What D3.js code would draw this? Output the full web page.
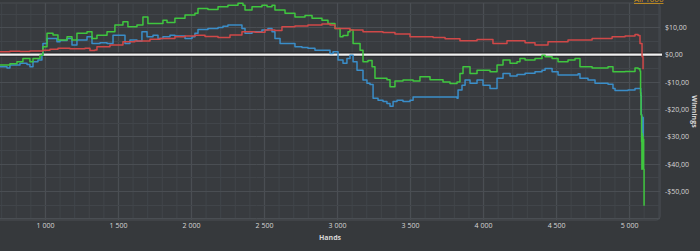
<!DOCTYPE html>
<html>
<head>
<meta charset="utf-8">
<script src="https://cdn.jsdelivr.net/npm/d3@7"></script>
<style>
  html, body { margin: 0; padding: 0; background: #36393c; }
  svg { display: block; }
</style>
</head>
<body>
<div class="canvas"></div>
<script>
const width = 700
const height = 251

// tick labels
const xTicks = [1000, 1500, 2000, 2500, 3000, 3500, 4000, 4500, 5000]
const yTicks = [10, 0, -10, -20, -30, -40, -50]

// [hands, winnings $]
const redData = [
  [692, 1.0], [760, 1.2], [829, 1.1], [897, 1.3], [986, 1.6], [1034, 2.0], [1089, 2.3],
  [1171, 2.1], [1274, 2.3], [1308, 1.5], [1342, 1.7], [1356, 2.9], [1445, 3.5], [1534, 4.7],
  [1616, 5.0], [1719, 5.6], [1788, 5.9], [1890, 6.5], [1959, 6.8], [2027, 7.1], [2096, 6.6],
  [2185, 6.3], [2267, 7.2], [2349, 8.4], [2438, 8.2], [2507, 9.0], [2575, 8.8], [2623, 10.2],
  [2712, 10.5], [2801, 10.8], [2897, 11.2], [2952, 10.8], [2986, 9.6], [3089, 9.0],
  [3178, 8.4], [3315, 8.1], [3397, 7.5], [3500, 6.5], [3658, 6.3], [3740, 5.8], [3842, 5.1],
  [3959, 5.5], [4068, 4.1], [4164, 5.1], [4288, 4.3], [4356, 3.5], [4445, 4.7], [4582, 5.3],
  [4747, 5.9], [4884, 6.5], [4973, 6.8], [5041, 7.4], [5062, 7.0], [5075, 4.1], [5089, -0.8],
  [5096, -5.4]
]

const greenData = [
  [692, -3.8], [760, -3.4], [808, -2.6], [849, -1.4], [897, -2.6], [918, -1.4], [966, -0.2],
  [986, 2.9], [1014, 7.8], [1055, 7.2], [1089, 5.3], [1151, 6.5], [1185, 5.3], [1219, 7.8],
  [1288, 8.4], [1322, 5.9], [1356, 7.1], [1425, 8.4], [1479, 10.8], [1534, 12.0], [1568, 10.2],
  [1630, 10.8], [1671, 13.8], [1705, 11.4], [1808, 12.6], [1836, 11.8], [1890, 13.3],
  [1959, 14.5], [2027, 15.1], [2048, 16.9], [2116, 16.5], [2185, 17.5], [2253, 18.1],
  [2322, 18.8], [2356, 18.1], [2370, 16.3], [2418, 17.5], [2486, 18.1], [2521, 17.5],
  [2555, 18.1], [2575, 16.3], [2644, 15.1], [2712, 13.8], [2781, 14.3], [2829, 13.3],
  [2897, 12.6], [2938, 11.4], [2986, 9.6], [3021, 6.5], [3041, 7.0], [3075, 8.4], [3089, 9.0],
  [3110, 4.1], [3158, 1.6], [3178, -2.6], [3212, -2.2], [3240, -4.5], [3260, -8.7],
  [3342, -9.2], [3363, -11.8], [3397, -9.7], [3452, -9.3], [3521, -9.7], [3568, -8.1],
  [3637, -9.2], [3726, -10.0], [3774, -10.6], [3822, -10.0], [3842, -6.9], [3863, -4.5],
  [3911, -6.9], [3959, -5.7], [4048, -6.3], [4096, -3.8], [4137, -2.0], [4185, -3.2],
  [4233, -2.6], [4253, -1.4], [4288, -2.0], [4356, -1.4], [4404, -0.2], [4425, -0.8],
  [4473, -1.4], [4514, -2.6], [4582, -2.0], [4630, -1.4], [4664, -4.5], [4747, -4.9],
  [4856, -4.5], [4890, -6.3], [4973, -6.2], [5041, -4.9], [5062, -5.2], [5075, -6.0],
  [5079, -14], [5082, -22], [5086, -32], [5088, -42], [5090, -29], [5092, -41], [5094, -30],
  [5096, -40], [5098, -31], [5100, -42], [5103, -55.4]
]

const blueData = [
  [692, -4.5], [740, -4.9], [760, -3.8], [829, -3.2], [877, -3.6], [897, -4.5], [918, -2.6],
  [952, -2.0], [979, -0.2], [986, 4.1], [1014, 5.9], [1082, 4.7], [1103, 5.2], [1151, 5.9],
  [1185, 3.5], [1219, 5.3], [1288, 6.5], [1322, 4.1], [1377, 4.3], [1425, 4.1], [1466, 7.1],
  [1548, 4.1], [1582, 5.3], [1630, 4.9], [1664, 8.4], [1699, 6.5], [1740, 7.1], [1774, 5.9],
  [1808, 6.5], [1856, 7.1], [1890, 6.8], [1959, 5.9], [2007, 6.5], [2027, 7.8], [2048, 9.2],
  [2116, 9.6], [2185, 9.9], [2219, 10.4], [2253, 10.8], [2322, 10.8], [2349, 9.6], [2370, 7.8],
  [2418, 8.4], [2486, 9.0], [2527, 9.6], [2555, 8.4], [2575, 5.9], [2610, 4.1], [2664, 4.1],
  [2712, 2.9], [2760, 2.6], [2801, 2.3], [2849, 1.6], [2918, 1.6], [2952, 0.4], [2973, 1.0],
  [3007, -2.0], [3041, -3.2], [3068, -1.4], [3089, -0.2], [3110, -2.6], [3137, -5.7],
  [3178, -9.3], [3205, -10.5], [3226, -11.0], [3247, -16.0], [3281, -16.7], [3315, -17.2],
  [3342, -17.9], [3363, -18.9], [3384, -17.2], [3411, -16.7], [3452, -17.2], [3500, -16.7],
  [3521, -15.5], [3822, -16.0], [3829, -13.0], [3856, -11.2], [3877, -9.3], [3911, -10.5],
  [3959, -9.3], [4000, -11.2], [4048, -12.4], [4096, -8.7], [4137, -6.9], [4185, -7.8],
  [4233, -7.3], [4288, -6.8], [4356, -6.3], [4404, -5.7], [4425, -5.1], [4473, -6.3],
  [4514, -7.5], [4651, -7.0], [4664, -8.7], [4719, -9.3], [4767, -10.5], [4856, -10.9],
  [4890, -12.4], [4904, -13.2], [4993, -13.0], [5041, -12.4], [5075, -12.4], [5080, -15],
  [5084, -22], [5087, -29], [5089, -24], [5091, -31], [5093, -23], [5095, -30], [5097, -23]
]

const bgColor = '#36393c'
const gridMinor = '#41454a'
const gridMajor = '#4a4e53'
const labelColor = '#d6d6d6'
const labelFont = 'Open Sans, DejaVu Sans, sans-serif'

const plot = {left: 0, right: 660, top: 3, bottom: 220}

const svg = d3.select('.canvas')
  .append('svg')
  .attr('width', width)
  .attr('height', height)

svg.append('rect')
  .attr('width', width)
  .attr('height', height)
  .attr('fill', bgColor)

const x = d3.scaleLinear()
  .domain([692, 5212])
  .range([plot.left, plot.right])

const y = d3.scaleLinear()
  .domain([-60.6, 18.9])
  .range([plot.bottom, plot.top])

// plot frame
svg.append('rect')
  .attr('x', plot.left - 6)
  .attr('y', plot.top)
  .attr('width', plot.right - plot.left + 6)
  .attr('height', plot.bottom - plot.top)
  .attr('rx', 4)
  .attr('fill', '#383b3f')
  .attr('stroke', gridMajor)
  .attr('stroke-width', 1.2)

const grid = svg.append('g')

// vertical grid every 100 hands, brighter at 500
grid.selectAll('.vgrid')
  .data(d3.range(700, 5201, 100))
  .enter()
  .append('line')
  .attr('class', 'vgrid')
  .attr('x1', d => x(d) + 0.5)
  .attr('x2', d => x(d) + 0.5)
  .attr('y1', plot.top)
  .attr('y2', plot.bottom)
  .attr('stroke', d => d % 500 === 0 ? gridMajor : gridMinor)
  .attr('stroke-width', d => d % 500 === 0 ? 1.3 : 1)

// horizontal grid every $5
grid.selectAll('.hgrid')
  .data(d3.range(-60, 19, 5))
  .enter()
  .append('line')
  .attr('class', 'hgrid')
  .attr('x1', plot.left)
  .attr('x2', plot.right)
  .attr('y1', d => Math.round(y(d)) + 0.5)
  .attr('y2', d => Math.round(y(d)) + 0.5)
  .attr('stroke', d => d % 10 === 0 ? gridMajor : gridMinor)
  .attr('stroke-width', 1)

// zero line
svg.append('line')
  .attr('x1', plot.left)
  .attr('x2', plot.right + 2)
  .attr('y1', y(0))
  .attr('y2', y(0))
  .attr('stroke', '#1e1f21')
  .attr('stroke-width', 4)
svg.append('line')
  .attr('x1', plot.left)
  .attr('x2', plot.right + 2)
  .attr('y1', y(0))
  .attr('y2', y(0))
  .attr('stroke', '#f2f2f2')
  .attr('stroke-width', 2.2)

const line = d3.line()
  .x(d => x(d[0]))
  .y(d => y(d[1]))
  .curve(d3.curveStepAfter)

const series = [
  {name: 'blue', data: blueData, color: '#3a8dc8'},
  {name: 'green', data: greenData, color: '#3fc63f'},
  {name: 'red', data: redData, color: '#d04848'}
]

svg.selectAll('.series')
  .data(series)
  .enter()
  .append('path')
  .attr('class', 'series')
  .attr('d', d => line(d.data))
  .attr('fill', 'none')
  .attr('stroke', d => d.color)
  .attr('stroke-width', 1.5)
  .attr('stroke-linejoin', 'round')

// y axis on the right
const fmtMoney = v => (v < 0 ? '-$' : '$') + Math.abs(v) + ',00'
const yAxis = d3.axisRight(y)
  .tickValues(yTicks)
  .tickSize(0)
  .tickPadding(0)
  .tickFormat(fmtMoney)

svg.append('g')
  .attr('transform', `translate(${plot.right + 5}, 0)`)
  .call(yAxis)
  .call(g => g.select('.domain').remove())
  .selectAll('text')
  .attr('fill', labelColor)
  .attr('font-family', labelFont)
  .attr('font-size', 7)

// x axis
const xAxis = d3.axisBottom(x)
  .tickValues(xTicks)
  .tickSize(0)
  .tickPadding(0)
  .tickFormat(d => d3.format(',')(d).replace(',', ' '))

svg.append('g')
  .attr('transform', `translate(0, ${plot.bottom + 3})`)
  .call(xAxis)
  .call(g => g.select('.domain').remove())
  .selectAll('text')
  .attr('fill', labelColor)
  .attr('font-family', labelFont)
  .attr('font-size', 7)

svg.append('text')
  .attr('x', (plot.left + plot.right) / 2)
  .attr('y', 240)
  .attr('text-anchor', 'middle')
  .attr('fill', labelColor)
  .attr('font-family', labelFont)
  .attr('font-weight', 'bold')
  .attr('font-size', 7)
  .text('Hands')

svg.append('text')
  .attr('transform', `translate(692, ${(plot.top + plot.bottom) / 2}) rotate(90)`)
  .attr('text-anchor', 'middle')
  .attr('fill', labelColor)
  .attr('font-family', labelFont)
  .attr('font-weight', 'bold')
  .attr('font-size', 7)
  .text('Winnings')

// cut-off link at the top right
svg.append('text')
  .attr('x', 634)
  .attr('y', 2)
  .attr('fill', '#d89a1c')
  .attr('font-family', labelFont)
  .attr('font-size', 8)
  .attr('text-decoration', 'underline')
  .text('All 1000')
</script>
</body>
</html>
